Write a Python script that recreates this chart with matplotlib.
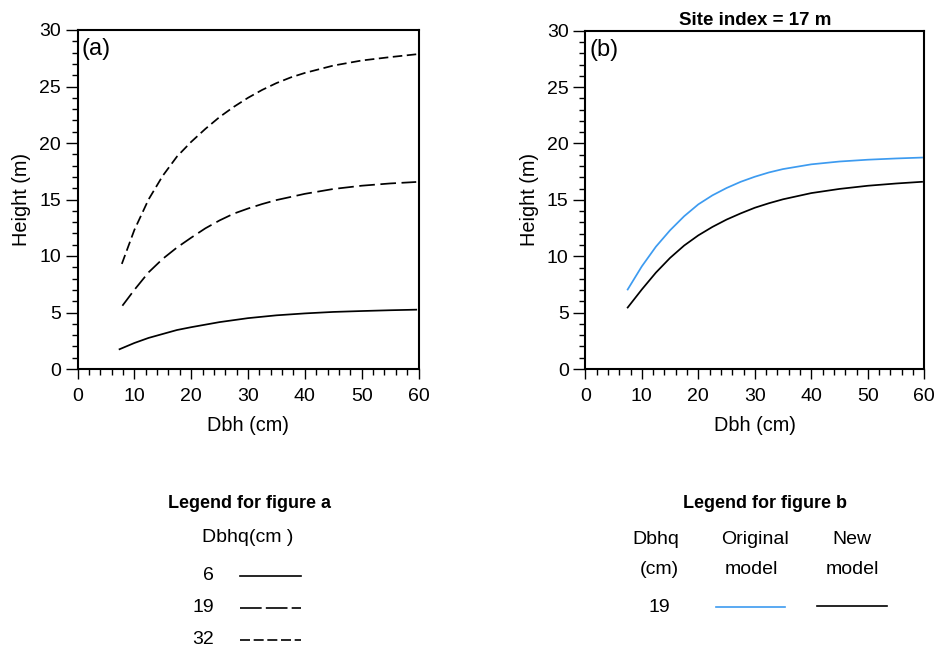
import matplotlib
matplotlib.use("Agg")
import matplotlib.pyplot as plt
import matplotlib.ticker as mtick
from matplotlib.lines import Line2D
import numpy as np

plt.rcParams['font.family'] = ['Liberation Sans', 'DejaVu Sans']

# panel (a): height vs dbh for three Dbhq values
dbh_a6 = [7.4, 10, 12.5, 15, 17.5, 20, 25, 30, 35, 40, 45, 50, 55, 59.6]
h_a6 = [1.75, 2.3, 2.75, 3.1, 3.45, 3.7, 4.15, 4.5, 4.75, 4.92, 5.05, 5.13, 5.2, 5.25]

dbh_a19 = [7.9, 10, 12.5, 15, 17.5, 20, 22.5, 25, 27.5, 30, 32.5, 35, 40, 45, 50, 55, 59.6]
h_a19 = [5.6, 7.0, 8.55, 9.75, 10.75, 11.62, 12.45, 13.15, 13.75, 14.2, 14.6, 14.95,
         15.5, 15.93, 16.22, 16.42, 16.55]

dbh_a32 = [7.8, 10, 12.5, 15, 17.5, 20, 22.5, 25, 27.5, 30, 32.5, 35, 37.5, 40, 45, 50, 55, 59.6]
h_a32 = [9.3, 12.3, 15.0, 17.1, 18.8, 20.1, 21.25, 22.3, 23.2, 24.0, 24.7, 25.3, 25.8,
         26.2, 26.85, 27.3, 27.6, 27.85]

# panel (b): original vs new model, Dbhq = 19
dbh_b = [7.5, 10, 12.5, 15, 17.5, 20, 22.5, 25, 27.5, 30, 32.5, 35, 40, 45, 50, 55, 59.6]
h_orig = [7.05, 9.1, 10.85, 12.3, 13.55, 14.6, 15.4, 16.05, 16.6, 17.05, 17.43, 17.73,
          18.15, 18.4, 18.56, 18.67, 18.75]
h_new = [5.45, 7.05, 8.55, 9.85, 10.95, 11.85, 12.6, 13.25, 13.8, 14.3, 14.7, 15.05,
         15.6, 15.97, 16.25, 16.45, 16.6]

blue = '#3d9bf0'
short_dash = (0, (5.5, 2.6))
long_dash = (0, (9, 3.2))

W, H = 939, 655
fig = plt.figure(figsize=(W/100, H/100), dpi=100)

ax_a = fig.add_axes([77.5/W, 1-369/H, 341/W, 339/H])
ax_b = fig.add_axes([585.3/W, 1-369/H, 339/W, 338.3/H])

ax_a.plot(dbh_a6, h_a6, color='black', lw=1.25)
ax_a.plot(dbh_a19, h_a19, color='black', lw=1.25, linestyle=long_dash)
ax_a.plot(dbh_a32, h_a32, color='black', lw=1.25, linestyle=short_dash)

ax_b.plot(dbh_b, h_orig, color=blue, lw=1.25)
ax_b.plot(dbh_b, h_new, color='black', lw=1.25)

for ax, lab in [(ax_a, '(a)'), (ax_b, '(b)')]:
    ax.set_xlim(0, 60)
    ax.set_ylim(0, 30)
    ax.xaxis.set_major_locator(mtick.MultipleLocator(10))
    ax.xaxis.set_minor_locator(mtick.MultipleLocator(2))
    ax.yaxis.set_major_locator(mtick.MultipleLocator(5))
    ax.yaxis.set_minor_locator(mtick.MultipleLocator(1))
    ax.tick_params(which='major', direction='out', length=8.5, width=1, labelsize=14)
    ax.tick_params(which='minor', direction='out', length=4.3, width=1)
    ax.tick_params(axis='x', which='major', length=7.5, pad=6)
    ax.tick_params(axis='x', which='minor', length=4.3)
    for s in ax.spines.values():
        s.set_linewidth(1.5)
    ax.set_xlabel('Dbh (cm)', fontsize=14.3, labelpad=8)
    ax.set_ylabel('Height (m)', fontsize=14.3, labelpad=6)
    ax.text(0.012, 0.975, lab, transform=ax.transAxes, fontsize=17, va='top', ha='left')

ax_b.set_title('Site index = 17 m', fontsize=13.5, fontweight='bold', pad=4)

def ft(x, y, s, **kw):
    fig.text(x/W, 1-y/H, s, ha='center', va='center', **kw)

def fl(x0, x1, y, **kw):
    fig.add_artist(Line2D([x0/W, x1/W], [1-y/H, 1-y/H], transform=fig.transFigure, **kw))

# legend for figure a
ft(250, 503, 'Legend for figure a', fontsize=13, fontweight='bold')
ft(248, 537, 'Dbhq(cm )', fontsize=14)
ft(208, 576, '6', fontsize=14)
ft(203, 608, '19', fontsize=14)
ft(203, 640, '32', fontsize=14)
fl(240, 301, 576, color='black', lw=1.2)
fl(240, 301, 608, color='black', lw=1.2, linestyle=(0, (13, 2.5)))
fl(240, 301, 640, color='black', lw=1.2, linestyle=(0, (6, 2.2)))

# legend for figure b
ft(765, 503, 'Legend for figure b', fontsize=13, fontweight='bold')
ft(656, 540, 'Dbhq', fontsize=14)
ft(659, 569, '(cm)', fontsize=14)
ft(755, 540, 'Original', fontsize=14)
ft(751, 569, 'model', fontsize=14)
ft(852, 540, 'New', fontsize=14)
ft(852, 569, 'model', fontsize=14)
ft(659, 607, '19', fontsize=14)
fl(716, 785, 607, color=blue, lw=1.2)
fl(817, 887, 606, color='black', lw=1.2)

fig.savefig('out.png', dpi=100)
